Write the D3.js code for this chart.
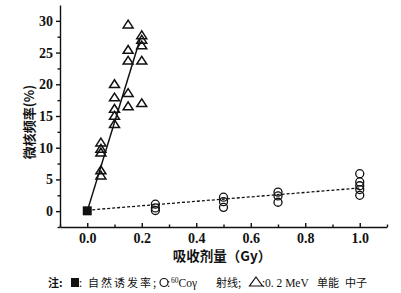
<!DOCTYPE html>
<html><head><meta charset="utf-8">
<script src="https://cdn.jsdelivr.net/npm/d3@7"></script>
<style>
html,body{margin:0;padding:0;background:#fff;}
svg{display:block;}
</style>
</head><body>
<script>
// ---- data ----
const xTicks = [0.0, 0.2, 0.4, 0.6, 0.8, 1.0];
const xTickLabels = ["0.0", "0.2", "0.4", "0.6", "0.8", "1.0"];
const yTicks = [0, 5, 10, 15, 20, 25, 30];
const yTickLabels = ["0", "5", "10", "15", "20", "25", "30"];
const xMinor = [-0.1, 0.1, 0.3, 0.5, 0.7, 0.9, 1.1];
const yMinor = [-2.5, 2.5, 7.5, 12.5, 17.5, 22.5, 27.5];

const controlX = [0.0];
const controlY = [0.05];

const neutronDose = [0.05, 0.1, 0.15, 0.2];
const neutronVals = [
  [10.9, 9.9, 9.3, 6.5, 5.7],
  [20.1, 18.0, 16.2, 15.1, 13.8],
  [29.5, 25.5, 23.8, 18.7, 16.6],
  [27.8, 27.1, 26.2, 23.8, 17.1]
];
const gammaDose = [0.25, 0.5, 0.7, 1.0];
const gammaVals = [
  [1.1, 0.5, 0.1],
  [2.2, 1.5, 0.6],
  [3.0, 2.4, 1.4],
  [5.9, 4.6, 4.0, 3.4, 2.5]
];
const neutronFitX = [0.0, 0.195];
const neutronFitY = [0.0, 27.3];
const gammaFitX = [0.0, 1.0];
const gammaFitY = [0.15, 3.65];

const xTitle = "吸收剂量（Gy）";
const yTitle = "微核频率(%)";

// ---- drawing ----
const W = 401, H = 293;
const svg = d3.select("body").append("svg").attr("width", W).attr("height", H);

const x = d3.scaleLinear().domain([-0.1, 1.1]).range([60, 387]);
const y = d3.scaleLinear().domain([-2.5, 32.5]).range([227, 5]);

const numFont = "'Liberation Serif', 'DejaVu Serif', serif";
const cjkFont = "'Noto Sans CJK SC', 'Noto Sans', sans-serif";

// x axis (ticks inward)
const xAxis = svg.append("g").attr("transform", `translate(0,${y(-2.5)})`)
  .call(d3.axisBottom(x).tickValues(xTicks).tickFormat((d,i)=>xTickLabels[i]).tickSizeInner(-4).tickSizeOuter(0).tickPadding(6));
svg.append("g").attr("transform", `translate(0,${y(-2.5)})`)
  .call(d3.axisBottom(x).tickValues(xMinor).tickFormat("").tickSizeInner(-2.5).tickSizeOuter(0))
  .select(".domain").remove();
xAxis.selectAll("text").attr("font-family", numFont).attr("font-weight", "bold").attr("font-size", 14).attr("fill", "#111");

// y axis (ticks outward)
const yAxis = svg.append("g").attr("transform", `translate(${x(-0.1)},0)`)
  .call(d3.axisLeft(y).tickValues(yTicks).tickFormat((d,i)=>yTickLabels[i]).tickSizeInner(4).tickSizeOuter(0).tickPadding(3));
svg.append("g").attr("transform", `translate(${x(-0.1)},0)`)
  .call(d3.axisLeft(y).tickValues(yMinor).tickFormat("").tickSizeInner(2.5).tickSizeOuter(0))
  .select(".domain").remove();
yAxis.selectAll("text").attr("font-family", numFont).attr("font-weight", "bold").attr("font-size", 14).attr("fill", "#111");
svg.selectAll(".domain, .tick line").attr("stroke", "#111").attr("stroke-width", 1.4);

// fit lines
const line = d3.line().x(d => x(d[0])).y(d => y(d[1]));
svg.append("path").datum(neutronFitX.map((v,i)=>[v, neutronFitY[i]]))
  .attr("d", line).attr("fill", "none").attr("stroke", "#111").attr("stroke-width", 1.5);
svg.append("path").datum(gammaFitX.map((v,i)=>[v, gammaFitY[i]]))
  .attr("d", line).attr("fill", "none").attr("stroke", "#111").attr("stroke-width", 1.3).attr("stroke-dasharray", "3,2");

// custom flat triangle symbol (bbox-centered)
const flatTri = { draw(ctx, size) {
  const w = Math.sqrt(size) * 1.25, h = w * 0.78;
  ctx.moveTo(0, -h/2); ctx.lineTo(w/2, h/2); ctx.lineTo(-w/2, h/2); ctx.closePath();
}};

const neutronPts = [];
neutronDose.forEach((d,i)=>neutronVals[i].forEach(v=>neutronPts.push([d,v])));
const gammaPts = [];
gammaDose.forEach((d,i)=>gammaVals[i].forEach(v=>gammaPts.push([d,v])));

svg.append("g").selectAll("path").data(neutronPts).join("path")
  .attr("transform", d => `translate(${x(d[0])},${y(d[1])})`)
  .attr("d", d3.symbol().type(flatTri).size(64))
  .attr("fill", "none").attr("stroke", "#111").attr("stroke-width", 1.5).attr("stroke-linejoin", "miter");

svg.append("g").selectAll("circle").data(gammaPts).join("circle")
  .attr("cx", d => x(d[0])).attr("cy", d => y(d[1])).attr("r", 4)
  .attr("fill", "none").attr("stroke", "#111").attr("stroke-width", 1.3);

svg.append("g").selectAll("rect").data(controlX.map((v,i)=>[v, controlY[i]])).join("rect")
  .attr("x", d => x(d[0]) - 4.5).attr("y", d => y(d[1]) - 4.5).attr("width", 9).attr("height", 9)
  .attr("fill", "#111");

// axis titles
svg.append("text").attr("x", 222).attr("y", 261).attr("text-anchor", "middle")
  .attr("font-family", cjkFont).attr("font-weight", "bold").attr("font-size", 13.5).attr("fill", "#111")
  .text(xTitle);
svg.append("text").attr("transform", "translate(34,122) rotate(-90)").attr("text-anchor", "middle")
  .attr("font-family", cjkFont).attr("font-weight", "bold").attr("font-size", 13).attr("fill", "#111")
  .text(yTitle);

// note / legend line
const noteY = 287;
const note = svg.append("g").attr("font-family", cjkFont).attr("font-size", 11).attr("fill", "#111");
note.append("text").attr("x", 48).attr("y", noteY).attr("font-weight", "bold").text("注:");
note.append("rect").attr("x", 71).attr("y", noteY - 9).attr("width", 8).attr("height", 9).attr("fill", "#111");
note.append("text").attr("x", 79).attr("y", noteY).text(":");
note.append("text").attr("x", 88).attr("y", noteY).attr("textLength", 68).attr("lengthAdjust", "spacing").text("自然诱发率;");
note.append("circle").attr("cx", 164).attr("cy", noteY - 4.5).attr("r", 4).attr("fill", "none").attr("stroke", "#111").attr("stroke-width", 1.2);
note.append("text").attr("x", 167).attr("y", noteY).text(":");
const co = note.append("text").attr("x", 171).attr("y", noteY).attr("font-family", numFont);
co.append("tspan").attr("font-size", 7.5).attr("dy", -4).text("60");
co.append("tspan").attr("dy", 4).attr("font-size", 11.5).text("Co");
co.append("tspan").attr("font-size", 11.5).text("γ");
note.append("text").attr("x", 216).attr("y", noteY).text("射线;");
note.append("path").attr("d", `M256,${noteY-10} L262.5,${noteY-1} L249.5,${noteY-1} Z`).attr("fill", "none").attr("stroke", "#111").attr("stroke-width", 1.2);
note.append("text").attr("x", 262).attr("y", noteY).text(":");
note.append("text").attr("x", 265).attr("y", noteY).attr("font-family", numFont).attr("font-size", 11.5).text("0. 2 MeV");
note.append("text").attr("x", 317).attr("y", noteY).text("单能");
note.append("text").attr("x", 345).attr("y", noteY).text("中子");
</script>
</body></html>
